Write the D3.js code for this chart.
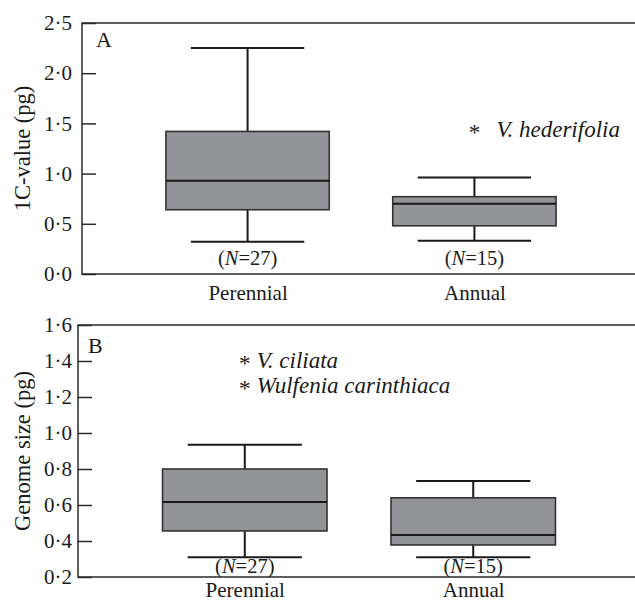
<!DOCTYPE html>
<html>
<head>
<meta charset="utf-8">
<script src="https://cdn.jsdelivr.net/npm/d3@7"></script>
<style>
  body { margin: 0; background: #fff; }
  svg { display: block; font-family: "Liberation Serif", "Times New Roman", serif; }
</style>
</head>
<body>
<div id="chart"></div>
<script>
// categories and sample sizes (same for both panels)
const categories = ["Perennial", "Annual"];
const sampleSizes = [27, 15];

// Panel A: 1C-value (pg)
const cLow = [0.32, 0.33];
const cQ1 = [0.64, 0.48];
const cMedian = [0.93, 0.70];
const cQ3 = [1.42, 0.77];
const cHigh = [2.25, 0.96];
const cTicks = [0, 0.5, 1.0, 1.5, 2.0, 2.5];
const cOutlierCats = ["Annual"];
const cOutlierValues = [1.45];
const cOutlierNames = ["V. hederifolia"];

// Panel B: genome size (pg)
const gLow = [0.31, 0.31];
const gQ1 = [0.456, 0.378];
const gMedian = [0.617, 0.433];
const gQ3 = [0.80, 0.64];
const gHigh = [0.935, 0.733];
const gTicks = [0.2, 0.4, 0.6, 0.8, 1.0, 1.2, 1.4, 1.6];
const gOutlierCats = ["Perennial", "Perennial"];
const gOutlierValues = [1.41, 1.27];
const gOutlierNames = ["V. ciliata", "Wulfenia carinthiaca"];

const W = 635, H = 604;
const ink = "#1a1a1a";
const fmt = v => d3.format(".1f")(v).replace(".", "\u00b7");

const svg = d3.select("#chart").append("svg")
    .attr("width", W)
    .attr("height", H);

function makePanel(opts) {
    const { left, top, bottom, domain, ticks, low, q1, med, q3, high,
            oCats, oValues, oNames, letter, letterPos, title, tickPad,
            catPad, nOffset, nameGap } = opts;
    const right = 640;

    const x = d3.scalePoint()
        .domain(categories)
        .range([left, right])
        .padding(0.73);
    const step = x.step();

    const y = d3.scaleLinear()
        .domain(domain)
        .range([bottom, top]);

    const g = svg.append("g");

    // frame: top and bottom lines run to the edge
    g.append("path")
        .attr("d", `M${right},${top}H${left}V${bottom}H${right}`)
        .attr("fill", "none")
        .attr("stroke", "#2b2b2b")
        .attr("stroke-width", 1.5);

    // y axis with inward ticks
    const yAxis = g.append("g")
        .attr("transform", `translate(${left},0)`)
        .call(d3.axisLeft(y).tickValues(ticks).tickFormat(fmt)
            .tickSizeInner(-14).tickSizeOuter(0).tickPadding(tickPad));
    yAxis.select(".domain").remove();
    yAxis.selectAll(".tick line").attr("stroke", "#2b2b2b").attr("stroke-width", 1.5);
    yAxis.selectAll("text")
        .attr("font-size", 21)
        .attr("font-family", "Liberation Serif")
        .attr("fill", ink);

    // x category labels
    const xAxis = g.append("g")
        .attr("transform", `translate(0,${bottom})`)
        .call(d3.axisBottom(x).tickSize(0).tickPadding(catPad));
    xAxis.select(".domain").remove();
    xAxis.selectAll("text")
        .attr("font-size", 21)
        .attr("font-family", "Liberation Serif")
        .attr("fill", ink);

    // y title
    g.append("text")
        .attr("transform", `translate(30,${(top + bottom) / 2}) rotate(-90)`)
        .attr("text-anchor", "middle")
        .attr("font-size", 22.5)
        .attr("fill", ink)
        .text(title);

    // panel letter
    g.append("text")
        .attr("x", left + letterPos[0])
        .attr("y", top + letterPos[1])
        .attr("font-size", 22)
        .attr("fill", ink)
        .text(letter);

    const boxW = step * 0.72;
    const capW = step * 0.5;

    const boxes = g.selectAll(".box")
        .data(categories)
        .join("g")
        .attr("class", "box");

    // whisker stems
    boxes.append("line")
        .attr("x1", d => x(d)).attr("x2", d => x(d))
        .attr("y1", (d, i) => y(high[i])).attr("y2", (d, i) => y(q3[i]))
        .attr("stroke", ink).attr("stroke-width", 2);
    boxes.append("line")
        .attr("x1", d => x(d)).attr("x2", d => x(d))
        .attr("y1", (d, i) => y(q1[i])).attr("y2", (d, i) => y(low[i]))
        .attr("stroke", ink).attr("stroke-width", 2);

    // caps
    [high, low].forEach(arr => {
        boxes.append("line")
            .attr("x1", d => x(d) - capW / 2).attr("x2", d => x(d) + capW / 2)
            .attr("y1", (d, i) => y(arr[i])).attr("y2", (d, i) => y(arr[i]))
            .attr("stroke", ink).attr("stroke-width", 2);
    });

    // boxes
    boxes.append("rect")
        .attr("x", d => x(d) - boxW / 2)
        .attr("width", boxW)
        .attr("y", (d, i) => y(q3[i]))
        .attr("height", (d, i) => y(q1[i]) - y(q3[i]))
        .attr("fill", "#939497")
        .attr("stroke", "#333")
        .attr("stroke-width", 1.6);

    // medians
    boxes.append("line")
        .attr("x1", d => x(d) - boxW / 2).attr("x2", d => x(d) + boxW / 2)
        .attr("y1", (d, i) => y(med[i])).attr("y2", (d, i) => y(med[i]))
        .attr("stroke", ink).attr("stroke-width", 2);

    // sample sizes
    const nt = boxes.append("text")
        .attr("x", d => x(d))
        .attr("y", bottom - nOffset)
        .attr("text-anchor", "middle")
        .attr("font-size", 20.5)
        .attr("fill", ink);
    nt.append("tspan").text("(");
    nt.append("tspan").attr("font-style", "italic").text("N");
    nt.append("tspan").text((d, i) => "=" + sampleSizes[i] + ")");

    // outliers marked with asterisks and named
    const outs = g.selectAll(".outlier")
        .data(oCats)
        .join("g")
        .attr("class", "outlier");
    outs.append("text")
        .attr("x", d => x(d))
        .attr("y", (d, i) => y(oValues[i]) + 12)
        .attr("text-anchor", "middle")
        .attr("font-size", 23)
        .attr("fill", ink)
        .text("*");
    outs.append("text")
        .attr("x", d => x(d) + nameGap)
        .attr("y", (d, i) => y(oValues[i]) + 9)
        .attr("font-size", 23)
        .attr("font-style", "italic")
        .attr("fill", ink)
        .text((d, i) => oNames[i]);
}

makePanel({
    left: 82, top: 23, bottom: 274, domain: [0, 2.5], ticks: cTicks,
    low: cLow, q1: cQ1, med: cMedian, q3: cQ3, high: cHigh,
    oCats: cOutlierCats, oValues: cOutlierValues, oNames: cOutlierNames,
    letter: "A", letterPos: [14, 24], title: "1C-value (pg)",
    tickPad: 10, catPad: 11, nOffset: 9, nameGap: 22
});

makePanel({
    left: 78, top: 325, bottom: 577, domain: [0.2, 1.6], ticks: gTicks,
    low: gLow, q1: gQ1, med: gMedian, q3: gQ3, high: gHigh,
    oCats: gOutlierCats, oValues: gOutlierValues, oNames: gOutlierNames,
    letter: "B", letterPos: [10, 28], title: "Genome size (pg)",
    tickPad: 6, catPad: 5, nOffset: 4, nameGap: 12
});
</script>
</body>
</html>
